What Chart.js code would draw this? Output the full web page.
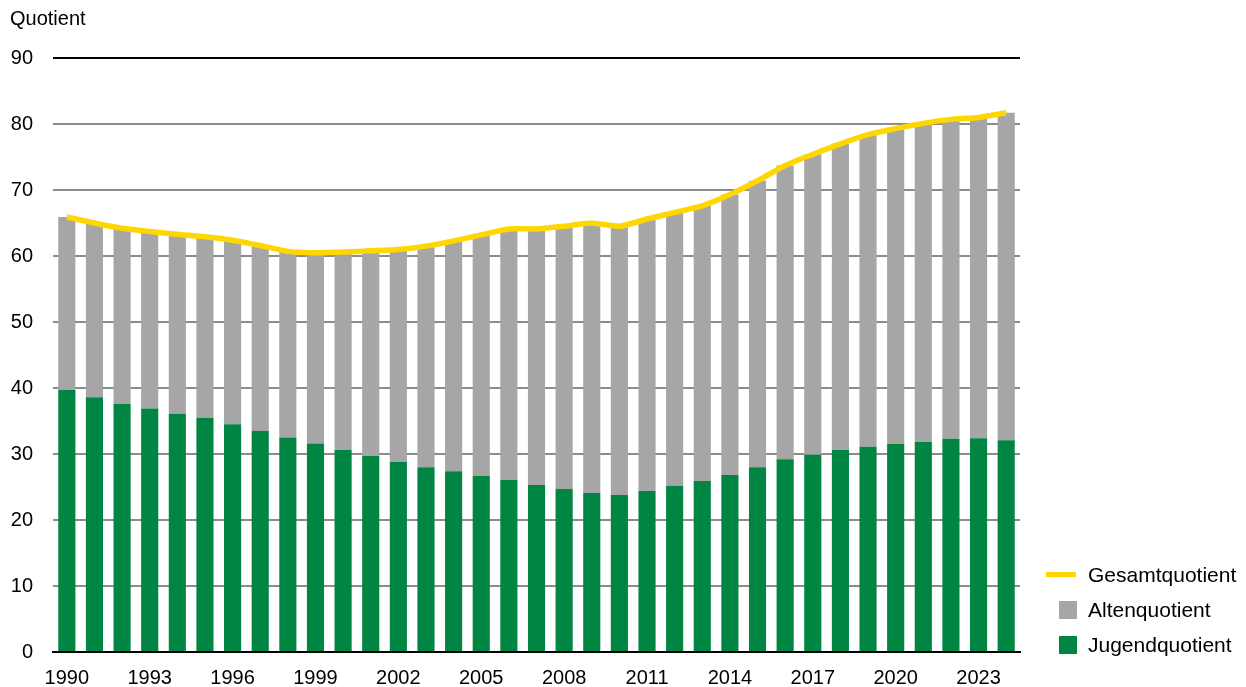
<!DOCTYPE html>
<html lang="de">
<head>
    <meta charset="UTF-8">
    <title>Jugend-, Alten- und Gesamtquotient</title>
    <script src="https://cdn.jsdelivr.net/npm/chart.js"></script>
    <style>
        body { margin: 0; background: #fff; font-family: "Liberation Sans", Arial, sans-serif; color: #000; }
        .wrap { position: relative; width: 1246px; height: 687px; }
        .unit { position: absolute; left: 10px; top: 7px; font-size: 20px; }
        .legend { position: absolute; left: 1046px; top: 561px; font-size: 21px; }
        .legend div { position: relative; height: 35px; line-height: 28px; padding-left: 42px; }
        .legend .sw { position: absolute; }
        .line-sw { left: 0; top: 11px; width: 30px; height: 5px; background: #FFD700; }
        .box-sw { left: 13px; top: 5px; width: 18px; height: 18px; }
    </style>
</head>
<body>
<div class="wrap">
    <canvas id="chart" width="1246" height="687"></canvas>
    <div class="unit">Quotient</div>
    <div class="legend">
        <div><span class="sw line-sw"></span>Gesamtquotient</div>
        <div><span class="sw box-sw" style="background:#A6A6A6"></span>Altenquotient</div>
        <div><span class="sw box-sw" style="background:#008542"></span>Jugendquotient</div>
    </div>
</div>

<script>
    const years = [];
    for (let y = 1990; y <= 2024; y++) years.push(String(y));

    // Jugendquotient (green bars)
    const jugend = [39.7, 38.6, 37.6, 36.9, 36.1, 35.5, 34.5, 33.5, 32.5, 31.6,
                    30.6, 29.7, 28.8, 28.0, 27.4, 26.7, 26.1, 25.3, 24.7, 24.1,
                    23.8, 24.4, 25.2, 25.9, 26.8, 28.0, 29.2, 29.9, 30.6, 31.1,
                    31.5, 31.8, 32.3, 32.4, 32.1];

    // Gesamtquotient (yellow line)
    const gesamt = [65.9, 65.0, 64.2, 63.7, 63.3, 62.9, 62.4, 61.6, 60.7, 60.5,
                    60.6, 60.8, 61.0, 61.5, 62.3, 63.2, 64.1, 64.1, 64.5, 65.0,
                    64.5, 65.6, 66.6, 67.6, 69.3, 71.4, 73.7, 75.4, 77.0, 78.4,
                    79.3, 80.1, 80.7, 81.0, 81.7];

    // Altenquotient (grey bars) = Gesamt - Jugend
    const alten = gesamt.map((g, i) => +(g - jugend[i]).toFixed(1));

    const yTicks = [0, 10, 20, 30, 40, 50, 60, 70, 80, 90];

    const ctx = document.getElementById("chart").getContext("2d");
    new Chart(ctx, {
        type: "bar",
        data: {
            labels: years,
            datasets: [
                {
                    type: "line",
                    label: "Gesamtquotient",
                    data: gesamt,
                    borderColor: "#FFD700",
                    borderWidth: 5.5,
                    pointRadius: 0,
                    tension: 0.2,
                    stack: "line",
                    order: 0
                },
                {
                    label: "Jugendquotient",
                    data: jugend,
                    backgroundColor: "#008542",
                    stack: "bars",
                    order: 1
                },
                {
                    label: "Altenquotient",
                    data: alten,
                    backgroundColor: "#A6A6A6",
                    stack: "bars",
                    order: 2
                }
            ]
        },
        options: {
            responsive: false,
            animation: false,
            layout: { padding: { left: 0, right: 226, top: 58, bottom: 0 } },
            datasets: { bar: { categoryPercentage: 1, barPercentage: 0.62 } },
            plugins: { legend: { display: false }, tooltip: { enabled: false } },
            scales: {
                x: {
                    stacked: true,
                    grid: { display: false, drawTicks: false },
                    border: { display: true, color: "#000", width: 2 },
                    ticks: {
                        color: "#000",
                        font: { size: 20, family: "Liberation Sans" },
                        autoSkip: false,
                        maxRotation: 0,
                        padding: 14,
                        callback: function (v, i) { return i % 3 === 0 ? years[i] : ""; }
                    },
                    afterFit: function (s) { s.height = 35; }
                },
                y: {
                    stacked: true,
                    min: 0,
                    max: 90,
                    afterBuildTicks: function (s) { s.ticks = yTicks.map(v => ({ value: v })); },
                    grid: {
                        drawTicks: false,
                        lineWidth: 2,
                        color: function (c) { return (c.tick.value === 90 || c.tick.value === 0) ? "#000" : "#8C8C8C"; }
                    },
                    border: { display: false },
                    ticks: {
                        color: "#000",
                        font: { size: 20, family: "Liberation Sans" },
                        padding: 20
                    },
                    afterFit: function (s) { s.width = 53; }
                }
            }
        }
    });
</script>
</body>
</html>
